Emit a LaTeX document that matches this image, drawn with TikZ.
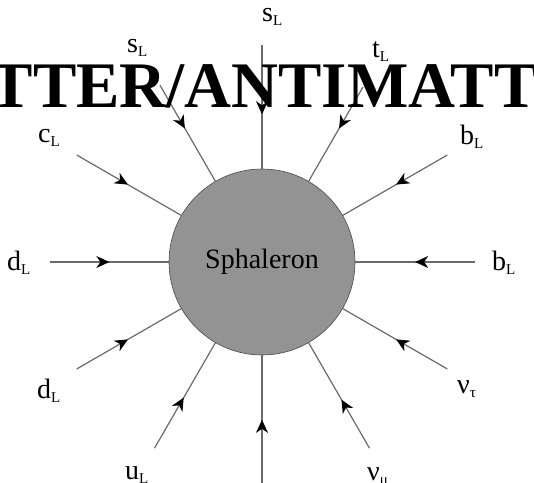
\documentclass[tikz,border=0pt]{standalone}
\usepackage{fontspec}
\setmainfont{Liberation Serif}
\usetikzlibrary{arrows.meta,decorations.markings}
\definecolor{linegray}{HTML}{6A6A6A}
\definecolor{ballgray}{HTML}{939393}
\definecolor{rimgray}{HTML}{4A4A4A}
\newcommand{\plab}[2]{#1{\fontsize{15}{15}\selectfont\raisebox{-4pt}{#2}}}
\tikzset{
  leg/.style={draw=linegray, line width=1.2pt, postaction={decorate},
    decoration={markings, mark=at position #1 with {\arrow[black]{Stealth[length=13pt,width=12pt,inset=4pt]}}}},
  lab/.style={anchor=base west, inner sep=0pt, font=\fontsize{28}{28}\selectfont},
  ball/.style={circle, minimum size=186pt, inner sep=0pt, fill=ballgray, draw=rimgray, line width=0.6pt,
    font=\fontsize{28}{28}\selectfont}
}
\begin{document}
\begin{tikzpicture}[x=1pt,y=1pt]
\clip (0,0) rectangle (534,482);
\fill[white] (0,0) rectangle (534,482);
\node[ball] (sph) at (262,220) {Sphaleron};
\coordinate (C) at (262,220);
% outer ends
\coordinate (p1) at ([shift={(90:217)}]C);
\coordinate (p2) at ([shift={(120:204)}]C);
\coordinate (p3) at ([shift={(60:202)}]C);
\coordinate (p4) at ([shift={(150:214)}]C);
\coordinate (p5) at ([shift={(30:214)}]C);
\coordinate (p6) at ([shift={(180:212)}]C);
\coordinate (p7) at ([shift={(0:213)}]C);
\coordinate (p8) at ([shift={(210:214)}]C);
\coordinate (p9) at ([shift={(330:214)}]C);
\coordinate (p10) at ([shift={(240:215)}]C);
\coordinate (p11) at ([shift={(270:240)}]C);
\coordinate (p12) at ([shift={(300:215)}]C);
\draw[leg=0.56] (p1) -- (sph);
\draw[leg=0.45] (p2) -- (sph);
\draw[leg=0.44] (p3) -- (sph);
\draw[leg=0.49] (p4) -- (sph);
\draw[leg=0.49] (p5) -- (sph);
\draw[leg=0.50] (p6) -- (sph);
\draw[leg=0.50] (p7) -- (sph);
\draw[leg=0.49] (p8) -- (sph);
\draw[leg=0.49] (p9) -- (sph);
\draw[leg=0.48] (p10) -- (sph);
\draw[leg=0.56] (p11) -- (sph);
\draw[leg=0.46] (p12) -- (sph);
% labels
\node[lab] (l1) at (262,460) {\plab{s}{L}};
\node[lab] (l2) at (127,429) {\plab{s}{L}};
\node[lab] (l3) at (372,424) {\plab{t}{L}};
\node[lab] (l4) at (38,339) {\plab{c}{L}};
\node[lab] (l5) at (460,337) {\plab{b}{L}};
\node[lab] (l6) at (7,212) {\plab{d}{L}};
\node[lab] (l7) at (492,212) {\plab{b}{L}};
\node[lab] (l8) at (37,84) {\plab{d}{L}};
\node[lab] (l9) at (457,89) {\plab{ν}{τ}};
\node[lab] (l10) at (125,3) {\plab{u}{L}};
\node[lab] (l11) at (367,2) {\plab{ν}{μ}};
% title
\node[anchor=base, inner sep=0pt, font=\bfseries\fontsize{65}{65}\selectfont] (title) at (257,374) {MATTER/ANTIMATTER};
\end{tikzpicture}
\end{document}
